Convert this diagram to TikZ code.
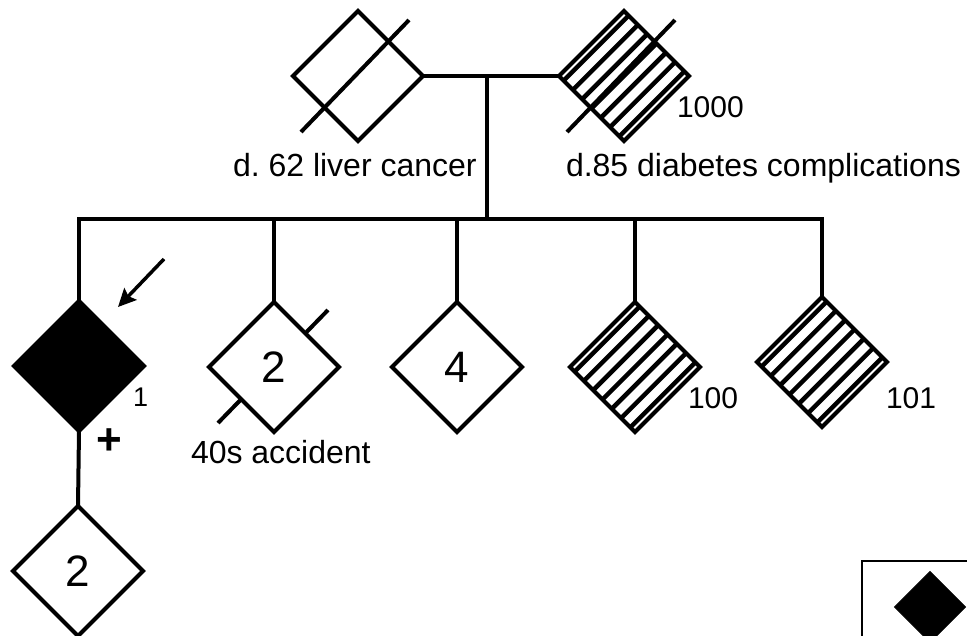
\documentclass[tikz,border=0pt]{standalone}
\usepackage{fontspec}
\setmainfont{Liberation Sans}
\usetikzlibrary{shapes.geometric,arrows.meta,calc}
\begin{document}
\begin{tikzpicture}[x=1pt,y=-1pt,line width=4pt,
  ind/.style={diamond,draw,fill=white,inner sep=0pt,outer sep=0pt,
    minimum width=130pt,minimum height=130pt,font=\fontsize{44}{50}\selectfont},
  aff/.style={ind,fill=black},
  hatched/.style={path picture={
    \foreach \k in {-3,...,3}{
      \draw[line width=4.5pt] ($(path picture bounding box.center)+(\k*9.3,\k*9.3)+(-90,90)$) -- ++(180,-180);
    }}},
  lab/.style={font=\fontsize{32}{38}\selectfont,inner sep=0pt,anchor=base west},
  num/.style={font=\fontsize{30}{36}\selectfont,inner sep=0pt,anchor=base west},
  slashline/.style={line width=4pt}]
\useasboundingbox (0,0) rectangle (967,635);
\clip (0,0) rectangle (967,635);

% grandparents
\node[ind] (gf) at (358,76) {};
\node[ind,hatched] (gm) at (624,76) {};
\draw[slashline] ($(gf.center)+(-57,56)$) -- ($(gf.center)+(51,-56)$);
\draw[slashline] ($(gm.center)+(-57,56)$) -- ($(gm.center)+(51,-56)$);
\draw (gf.east) -- (gm.west);
\coordinate (mm) at (487,76);
\coordinate (sib) at (487,219);
\draw (mm) -- (sib);
\node[lab] (lgf) at (231,176) {d.\ 62 liver cancer};
\node[lab] (lgm) at (564,176) {d.85 diabetes complications};
\node[num] (ngm) at (675,117) {1000};

% children
\node[aff] (c1) at (79,366) {};
\coordinate (p2) at (274,367);
\draw[slashline] ($(p2)+(-56,56)$) -- ($(p2)+(54,-57)$);
\node[ind] (c2) at (p2) {2};
\node[ind] (c3) at (457,367) {4};
\node[ind,hatched] (c4) at (635,367) {};
\node[ind,hatched] (c5) at (822,362) {};

\draw (c1.north) -- (c1.north |- sib) -- (c5.north |- sib) -- (c5.north);
\draw (c2.north) -- (c2.north |- sib);
\draw (c3.north) -- (c3.north |- sib);
\draw (c4.north) -- (c4.north |- sib);

\node[lab] (lc2) at (189,463) {40s accident};
\node[num] (nc4) at (686,408) {100};
\node[num] (nc5) at (884,408) {101};
\node[font=\fontsize{27}{30}\selectfont,inner sep=0pt,anchor=base west] (nc1) at (131,406) {1};
\node[font=\fontsize{44}{52}\selectfont\bfseries,inner sep=0pt,anchor=base] (plus) at (109,454) {+};

% proband arrow
\coordinate (a1) at (164,259);
\coordinate (a2) at (118,307);
\draw[line width=3.5pt,-{Stealth[length=18pt,width=17pt,inset=3pt]}] (a1) -- (a2);

% next generation
\node[ind] (g1) at (78,571) {2};
\draw (c1.south) -- (g1.north);

% legend
\draw[line width=2.5pt] (862,561) rectangle (1000,700);
\node[aff,minimum width=71pt,minimum height=71pt,line width=1pt] (leg) at (930,607) {};
\end{tikzpicture}
\end{document}
